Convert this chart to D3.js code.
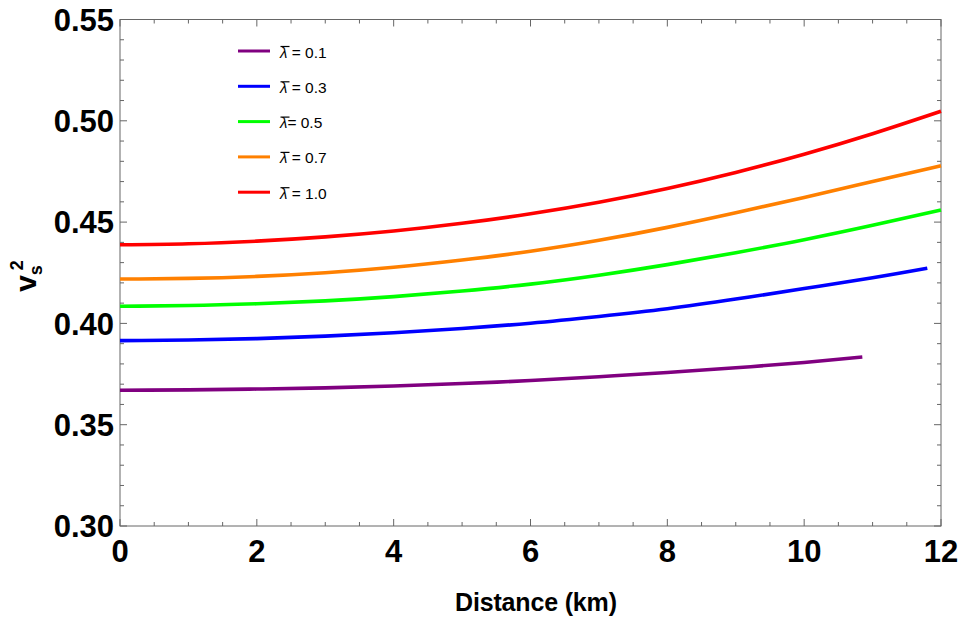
<!DOCTYPE html>
<html>

<head>
    <meta charset="utf-8">
    <script src="https://d3js.org/d3.v7.min.js" charset="utf-8"></script>
    <style>
        body { margin: 0; background: #fff; }
        svg { font-family: "Liberation Sans", Arial, sans-serif; }
    </style>
</head>

<body>
    <div id="chart_container"></div>
    <script>
        // chart data
        const distance = [0, 1, 2, 3, 4, 5, 6, 7, 8, 9, 10, 11, 12];
        const lambdaLabels = ['0.1', '0.3', '0.5', '0.7', '1.0'];
        const lambdaSep = [' = ', ' = ', '= ', ' = ', ' = '];
        const colors = ['#800080', '#0000ff', '#00ff00', '#ff8000', '#ff0000'];

        // lambda = 0.1 stops at ~10.85 km, lambda = 0.3 at ~11.8 km
        const dist01 = [0, 1, 2, 3, 4, 5, 6, 7, 8, 9, 10, 10.85];
        const vs01 = [0.3670, 0.3672, 0.3676, 0.3682, 0.3691, 0.3703, 0.3718, 0.3737, 0.3758, 0.3781, 0.3807, 0.3834];
        const dist03 = [0, 1, 2, 3, 4, 5, 6, 7, 8, 9, 10, 11, 11.8];
        const vs03 = [0.3915, 0.3918, 0.3925, 0.3937, 0.3954, 0.3975, 0.4001, 0.4034, 0.4072, 0.4120, 0.4172, 0.4225, 0.4272];
        const vs05 = [0.4085, 0.4088, 0.4097, 0.4111, 0.4132, 0.4160, 0.4194, 0.4238, 0.4290, 0.4349, 0.4413, 0.4484, 0.4560];
        const vs07 = [0.4219, 0.4222, 0.4232, 0.4250, 0.4277, 0.4313, 0.4356, 0.4410, 0.4474, 0.4546, 0.4622, 0.4700, 0.4778];
        const vs10 = [0.4388, 0.4393, 0.4406, 0.4427, 0.4456, 0.4494, 0.4541, 0.4598, 0.4666, 0.4745, 0.4835, 0.4936, 0.5047];

        const series = [
            { x: dist01, y: vs01 },
            { x: dist03, y: vs03 },
            { x: distance, y: vs05 },
            { x: distance, y: vs07 },
            { x: distance, y: vs10 }
        ];

        const xMajor = [0, 2, 4, 6, 8, 10, 12];
        const yMajor = [0.30, 0.35, 0.40, 0.45, 0.50, 0.55];

        const width = 960,
            height = 619;
        const margin = { top: 19.5, right: 19, bottom: 93, left: 120 };
        const innerW = width - margin.left - margin.right,
            innerH = height - margin.top - margin.bottom;

        const svg = d3.select('#chart_container')
            .append('svg')
            .attr('width', width)
            .attr('height', height);

        const g = svg.append('g')
            .attr('transform', `translate(${margin.left},${margin.top})`);

        const x = d3.scaleLinear().domain([0, 12]).range([0, innerW]);
        const y = d3.scaleLinear().domain([0.30, 0.55]).range([innerH, 0]);

        const frameColor = '#666';

        // minor + major ticks, all pointing inward on every side
        const xMinor = d3.range(0, 12.01, 0.5).filter(v => Math.abs(v % 2) > 1e-6);
        const yMinor = d3.range(0.30, 0.5501, 0.01).filter(v => Math.abs(Math.round(v * 100) % 5) !== 0);

        const ticks = g.append('g').attr('stroke', frameColor).attr('stroke-width', 1);
        const addX = (vals, len) => vals.forEach(v => {
            ticks.append('line').attr('x1', x(v)).attr('x2', x(v)).attr('y1', innerH).attr('y2', innerH - len);
            ticks.append('line').attr('x1', x(v)).attr('x2', x(v)).attr('y1', 0).attr('y2', len);
        });
        const addY = (vals, len) => vals.forEach(v => {
            ticks.append('line').attr('y1', y(v)).attr('y2', y(v)).attr('x1', 0).attr('x2', len);
            ticks.append('line').attr('y1', y(v)).attr('y2', y(v)).attr('x1', innerW).attr('x2', innerW - len);
        });
        addX(xMajor, 7);
        addX(xMinor, 4);
        addY(yMajor, 7);
        addY(yMinor, 4);

        g.append('rect')
            .attr('width', innerW)
            .attr('height', innerH)
            .attr('fill', 'none')
            .attr('stroke', frameColor)
            .attr('stroke-width', 1);

        // tick labels
        g.selectAll('.xlab').data(xMajor).enter().append('text')
            .attr('x', d => x(d))
            .attr('y', innerH + 36)
            .attr('text-anchor', 'middle')
            .attr('font-size', 31)
            .attr('font-weight', 'bold')
            .text(d => d);

        g.selectAll('.ylab').data(yMajor).enter().append('text')
            .attr('x', -6)
            .attr('y', d => y(d))
            .attr('dy', '0.36em')
            .attr('text-anchor', 'end')
            .attr('font-size', 31)
            .attr('font-weight', 'bold')
            .text(d => d.toFixed(2));

        // axis titles
        svg.append('text')
            .attr('x', 536)
            .attr('y', 611)
            .attr('text-anchor', 'middle')
            .attr('font-size', 25)
            .attr('font-weight', 'bold')
            .attr('textLength', 162)
            .text('Distance (km)');

        const yt = svg.append('text')
            .attr('transform', 'translate(36,276) rotate(-90)')
            .attr('text-anchor', 'middle')
            .attr('font-size', 30)
            .attr('font-weight', 'bold');
        yt.append('tspan').text('v');
        yt.append('tspan').attr('font-size', 18).attr('dy', 6).text('s');
        yt.append('tspan').attr('font-size', 18).attr('dy', -19).attr('dx', -5).text('2');

        // curves
        const line = d3.line()
            .x(d => x(d[0]))
            .y(d => y(d[1]))
            .curve(d3.curveNatural);

        g.selectAll('.curve').data(series).enter().append('path')
            .attr('fill', 'none')
            .attr('stroke', (d, i) => colors[i])
            .attr('stroke-width', 3.6)
            .attr('d', d => line(d.x.map((v, i) => [v, d.y[i]])));

        // legend
        const legend = svg.append('g').attr('transform', 'translate(238,51)');
        lambdaLabels.forEach((lab, i) => {
            const row = legend.append('g').attr('transform', `translate(0,${i * 35.3})`);
            row.append('line')
                .attr('x1', 0).attr('x2', 32)
                .attr('stroke', colors[i])
                .attr('stroke-width', 3);
            row.append('line')
                .attr('x1', 42.5).attr('x2', 51.5)
                .attr('y1', -4.5).attr('y2', -4.5)
                .attr('stroke', '#000')
                .attr('stroke-width', 1.2);
            const t = row.append('text')
                .attr('x', 42)
                .attr('y', 6.5)
                .attr('font-size', 15.5);
            t.append('tspan').attr('font-style', 'italic').attr('font-size', 15).text('\u03BB');
            t.append('tspan').text(lambdaSep[i] + lab);
        });
    </script>
</body>

</html>
